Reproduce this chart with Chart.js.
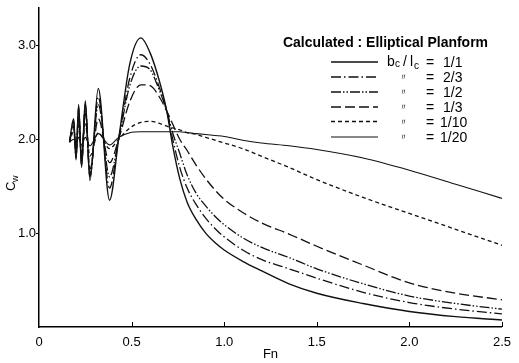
<!DOCTYPE html>
<html>
<head>
<meta charset="utf-8">
<script src="https://cdn.jsdelivr.net/npm/chart.js@4.4.1/dist/chart.umd.min.js"></script>
<style>
  html, body { margin: 0; padding: 0; background: #fff; }
  #wrap { width: 519px; height: 363px; }
</style>
</head>
<body>
<div id="wrap"><canvas id="cwChart" width="519" height="363"></canvas></div>
<script>
// Fn sample points
var fn = [0.165, 0.187, 0.2, 0.214, 0.23, 0.25, 0.275, 0.32, 0.381, 0.43,
          0.49, 0.55, 0.6, 0.65, 0.69, 0.72, 0.76, 0.8, 0.85, 0.9,
          0.95, 1.0, 1.1, 1.2, 1.35, 1.5, 1.75, 2.0, 2.25, 2.5];

// Cw for each bc/lc
var cw11 = [1.97, 2.22, 1.78, 2.37, 1.70, 2.41, 1.56, 2.54, 1.35, 2.0,
            2.8, 3.08, 2.92, 2.62, 2.3, 1.95, 1.58, 1.33, 1.14, 1.0,
            0.9, 0.82, 0.7, 0.6, 0.46, 0.36, 0.25, 0.165, 0.11, 0.075];
var cw23 = [1.97, 2.2, 1.8, 2.34, 1.72, 2.37, 1.6, 2.45, 1.48, 2.0,
            2.65, 2.90, 2.8, 2.55, 2.3, 2.02, 1.7, 1.48, 1.3, 1.16,
            1.05, 0.96, 0.82, 0.72, 0.62, 0.52, 0.37, 0.26, 0.19, 0.14];
var cw12 = [1.97, 2.18, 1.82, 2.3, 1.75, 2.33, 1.63, 2.37, 1.6, 2.0,
            2.57, 2.78, 2.74, 2.52, 2.3, 2.08, 1.85, 1.62, 1.42, 1.29,
            1.18, 1.09, 0.95, 0.85, 0.74, 0.62, 0.46, 0.33, 0.25, 0.19];
var cw13 = [1.97, 2.14, 1.85, 2.25, 1.79, 2.28, 1.68, 2.22, 1.75, 2.0,
            2.4, 2.58, 2.57, 2.45, 2.3, 2.17, 2.0, 1.88, 1.72, 1.58,
            1.46, 1.36, 1.22, 1.11, 0.99, 0.86, 0.66, 0.47, 0.36, 0.29];
var cw110 = [1.97, 2.08, 1.9, 2.15, 1.86, 2.16, 1.82, 2.07, 1.90, 2.0,
             2.12, 2.18, 2.19, 2.17, 2.14, 2.12, 2.1, 2.07, 2.05, 2.02,
             1.99, 1.96, 1.9, 1.82, 1.7, 1.57, 1.38, 1.21, 1.04, 0.87];
var cw120 = [1.97, 2.0, 1.95, 2.02, 1.94, 2.02, 1.93, 2.06, 1.94, 2.02,
             2.07, 2.08, 2.08, 2.08, 2.08, 2.08, 2.08, 2.07, 2.06, 2.05,
             2.04, 2.03, 1.99, 1.96, 1.93, 1.89, 1.8, 1.67, 1.52, 1.37];

var ratioLabels = ['1/1', '2/3', '1/2', '1/3', '1/10', '1/20'];
var xTicks = [0, 0.5, 1.0, 1.5, 2.0, 2.5];
var yTicks = [1.0, 2.0, 3.0];

var seriesValues = [cw11, cw23, cw12, cw13, cw110, cw120];
var dashes = [[], [10, 3, 1.5, 3], [10, 2, 1.5, 2, 1.5, 2], [10, 4], [4, 3], []];
var widths = [1.4, 1.3, 1.3, 1.3, 1.3, 1.1];
var font = '"Liberation Sans Narrow", "Liberation Sans", sans-serif';
var legendFont = '"Liberation Sans", sans-serif';

var datasets = seriesValues.map(function (vals, i) {
    return {
        label: ratioLabels[i],
        data: vals.map(function (v, j) { return { x: fn[j], y: v }; }),
        borderColor: '#111',
        borderWidth: widths[i],
        borderDash: dashes[i],
        pointRadius: 0,
        fill: false,
        cubicInterpolationMode: 'monotone'
    };
});

// legend, inward x ticks and the Cw label
var annotate = {
    id: 'annotate',
    afterDraw: function (chart) {
        var c = chart.ctx, xs = chart.scales.x, area = chart.chartArea;
        c.save();
        c.strokeStyle = '#000';
        c.lineWidth = 1;
        xTicks.forEach(function (v) {
            if (v === 0) return;
            var px = Math.round(xs.getPixelForValue(v)) + 0.5;
            c.beginPath();
            c.moveTo(px, area.bottom);
            c.lineTo(px, area.bottom - 5);
            c.stroke();
        });

        // y title
        c.fillStyle = '#000';
        c.translate(11, 185);
        c.rotate(-Math.PI / 2);
        c.font = '13px ' + font;
        c.fillText('C', -6, 4);
        c.font = '9px ' + font;
        c.fillText('w', 3, 7);
        c.restore();

        // legend
        c.save();
        c.fillStyle = '#000';
        c.font = 'bold 14px ' + font;
        var tw = c.measureText('Calculated : Elliptical Planform').width;
        c.save();
        c.translate(283, 46.5);
        c.scale(205 / tw, 1);
        c.fillText('Calculated : Elliptical Planform', 0, 0);
        c.restore();

        var rowY = [62, 77, 92, 107, 121.5, 137];
        chart.data.datasets.forEach(function (ds, i) {
            var y = rowY[i];
            c.strokeStyle = '#111';
            c.lineWidth = ds.borderWidth;
            c.setLineDash(ds.borderDash);
            c.beginPath();
            c.moveTo(331, y);
            c.lineTo(378, y);
            c.stroke();
            c.setLineDash([]);
            c.font = '14px ' + legendFont;
            if (i === 0) {
                c.fillText('b', 387, y + 4);
                c.font = '10px ' + legendFont;
                c.fillText('c', 395, y + 5);
                c.font = '14px ' + legendFont;
                c.fillText('/', 403, y + 4);
                c.fillText('l', 410, y + 4);
                c.font = '10px ' + legendFont;
                c.fillText('c', 414, y + 7);
                c.font = '14px ' + legendFont;
            } else {
                c.font = '9px ' + legendFont;
                c.fillText('\u3003', 399, y + 3);
                c.font = '14px ' + legendFont;
            }
            c.fillText('=', 426, y + 5);
            c.fillText(ds.label, i >= 4 ? 440 : 443, y + 5);
        });
        c.restore();
    }
};

var ctx = document.getElementById('cwChart').getContext('2d');
var cwChart = new Chart(ctx, {
    type: 'line',
    data: { datasets: datasets },
    options: {
        responsive: false,
        animation: false,
        devicePixelRatio: 1,
        layout: { padding: { top: 7, right: 8, left: 0, bottom: 0 } },
        plugins: { legend: { display: false }, tooltip: { enabled: false } },
        scales: {
            x: {
                type: 'linear',
                min: 0,
                max: 2.5,
                afterBuildTicks: function (s) { s.ticks = xTicks.map(function (v) { return { value: v }; }); },
                afterFit: function (s) { s.height = 36; },
                grid: { display: true, drawOnChartArea: false, drawTicks: false },
                border: { color: '#000', width: 1.5 },
                ticks: {
                    padding: 8,
                    color: '#000',
                    font: { family: font, size: 13 },
                    maxRotation: 0,
                    callback: function (v) { return v === 0 ? '0' : v.toFixed(1); }
                },
                title: {
                    display: true,
                    text: 'Fn',
                    color: '#000',
                    font: { family: font, size: 13 },
                    padding: { top: 0, bottom: 1 }
                }
            },
            y: {
                min: 0,
                max: 3.4,
                afterBuildTicks: function (s) { s.ticks = yTicks.map(function (v) { return { value: v }; }); },
                afterFit: function (s) { s.width = 39; },
                grid: { display: true, drawOnChartArea: false, tickLength: 3, color: '#000' },
                border: { color: '#000', width: 1.5 },
                ticks: {
                    padding: 0,
                    color: '#000',
                    font: { family: font, size: 13 },
                    callback: function (v) { return v.toFixed(1); }
                }
            }
        }
    },
    plugins: [annotate]
});
</script>
</body>
</html>
